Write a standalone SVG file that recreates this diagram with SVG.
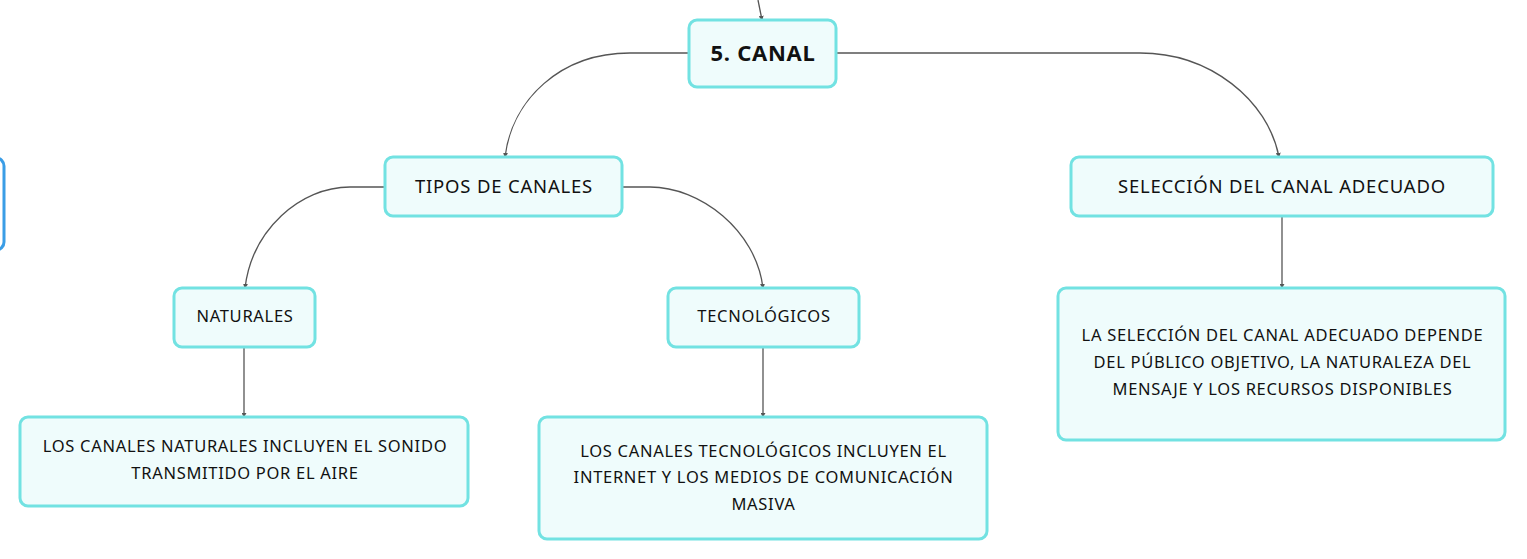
<svg xmlns="http://www.w3.org/2000/svg" width="1527" height="559" viewBox="0 0 1527 559">
<style>
.box{fill:#effcfc;stroke:#72e2e2;stroke-width:3}
.t{font-family:"Noto Sans",Lato,sans-serif;fill:#111;text-anchor:middle}
.l1{font-size:18.5px;letter-spacing:0.8px}
.l2{font-size:16.5px;letter-spacing:0.7px}
.c{fill:none;stroke:#555;stroke-width:1.3}
</style>
<defs>
<marker id="a" viewBox="0 0 6 6" refX="5" refY="3" markerWidth="5" markerHeight="5" orient="auto" markerUnits="userSpaceOnUse">
<path d="M0,0 L6,3 L0,6 z" fill="#555"/>
</marker>
</defs>
<g id="partial">
<rect x="-100" y="158" width="104" height="92" rx="8" fill="#fff" stroke="#3a9de6" stroke-width="3"/>
</g>
<g id="connectors">
<path class="c" d="M758,0 Q760,10 762,20" marker-end="url(#a)"/>
<path class="c" d="M689,53 L630,53 C560,53 512,100 505,157" marker-end="url(#a)"/>
<path class="c" d="M836,53 L1140,53 C1210,53 1268,100 1279,157" marker-end="url(#a)"/>
<path class="c" d="M385,187 L350,187 C300,187 252,230 245,288" marker-end="url(#a)"/>
<path class="c" d="M622,187 L650,187 C700,187 756,230 763,288" marker-end="url(#a)"/>
<path class="c" d="M1282,216 L1282,288" marker-end="url(#a)"/>
<path class="c" d="M244,347 L244,417" marker-end="url(#a)"/>
<path class="c" d="M763,347 L763,417" marker-end="url(#a)"/>
</g>
<g id="canal">
<rect class="box" x="689" y="20" width="147" height="67" rx="8"/>
<text class="t" x="763" y="61" font-size="22" font-weight="bold" letter-spacing="0.7">5. CANAL</text>
</g>
<g id="tipos">
<rect class="box" x="385" y="157" width="237" height="59" rx="8"/>
<text class="t l1" x="504" y="193">TIPOS DE CANALES</text>
</g>
<g id="seleccion">
<rect class="box" x="1071" y="157" width="422" height="59" rx="8"/>
<text class="t l1" x="1282" y="193">SELECCIÓN DEL CANAL ADECUADO</text>
</g>
<g id="naturales">
<rect class="box" x="174" y="288" width="141" height="59" rx="8"/>
<text class="t l2" x="245" y="322">NATURALES</text>
</g>
<g id="tecnologicos">
<rect class="box" x="668" y="288" width="191" height="59" rx="8"/>
<text class="t l2" x="764" y="322">TECNOLÓGICOS</text>
</g>
<g id="desc-naturales">
<rect class="box" x="20" y="417" width="448" height="89" rx="8"/>
<text class="t l2" x="245" y="452">LOS CANALES NATURALES INCLUYEN EL SONIDO</text>
<text class="t l2" x="245" y="479">TRANSMITIDO POR EL AIRE</text>
</g>
<g id="desc-tecnologicos">
<rect class="box" x="539" y="417" width="448" height="122" rx="8"/>
<text class="t l2" x="763.5" y="457">LOS CANALES TECNOLÓGICOS INCLUYEN EL</text>
<text class="t l2" x="763.5" y="483">INTERNET Y LOS MEDIOS DE COMUNICACIÓN</text>
<text class="t l2" x="763.5" y="510">MASIVA</text>
</g>
<g id="desc-seleccion">
<rect class="box" x="1058" y="288" width="447" height="152" rx="8"/>
<text class="t l2" x="1282.5" y="341">LA SELECCIÓN DEL CANAL ADECUADO DEPENDE</text>
<text class="t l2" x="1282.5" y="368">DEL PÚBLICO OBJETIVO, LA NATURALEZA DEL</text>
<text class="t l2" x="1282.5" y="395">MENSAJE Y LOS RECURSOS DISPONIBLES</text>
</g>
</svg>
